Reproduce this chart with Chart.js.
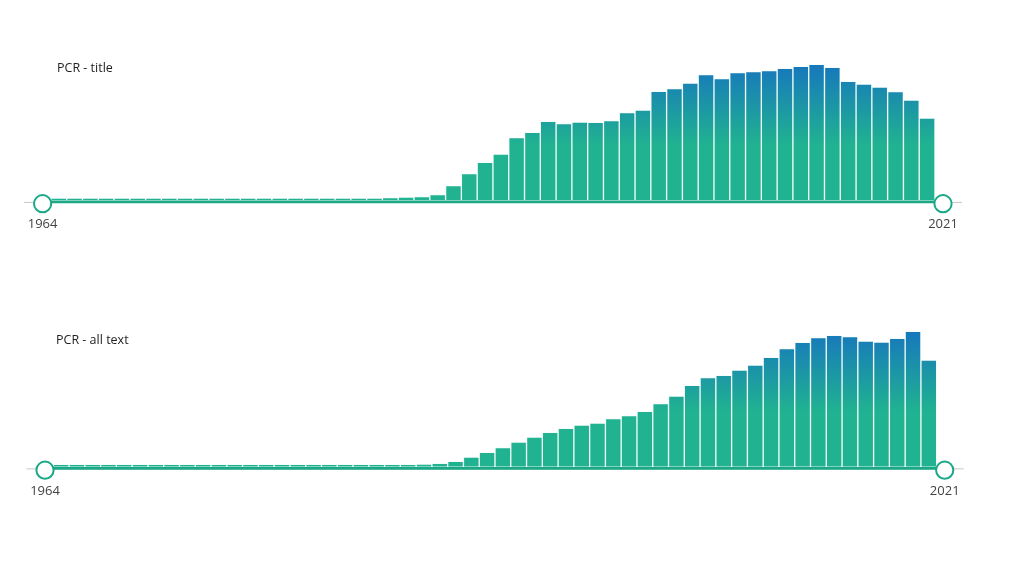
<!DOCTYPE html>
<html>
<head>
<meta charset="utf-8">
<script src="https://cdn.jsdelivr.net/npm/chart.js@4.4.1/dist/chart.umd.min.js"></script>
<style>
  html, body { margin: 0; padding: 0; background: #fff; }
  body { width: 1024px; height: 571px; position: relative; overflow: hidden; }
  canvas { position: absolute; left: 0; }
</style>
</head>
<body>
<canvas id="pcr-title" width="1024" height="250" style="top:0px"></canvas>
<canvas id="pcr-all" width="1024" height="250" style="top:266px"></canvas>
<script>
// years shown as bars (slider runs 1964 -> 2021)
const years = [];
for (let y = 1964; y <= 2020; y++) years.push(String(y));
const rangeLabels = ['1964', '2021'];

// PCR - title (arbitrary units)
const titleValues = [
  2.3, 2.3, 2.3, 2.3, 2.3, 2.3, 2.3, 2.3, 2.3, 2.3,
  2.3, 2.3, 2.3, 2.3, 2.3, 2.3, 2.3, 2.3, 2.3, 2.3,
  2.3, 2.3, 2.6, 3.3, 3.6, 5.6, 14.6, 26.7, 38, 46.3,
  62.7, 68, 79, 76.7, 78.3, 78, 79.7, 87.7, 90.3, 109,
  111.7, 117.3, 125.7, 121.7, 127.7, 128.7, 129.7, 132, 134, 136,
  133, 119, 116.3, 113.3, 108.7, 100.3, 82.3
];

// PCR - all text
const allTextValues = [
  2.5, 2.5, 2.5, 2.5, 2.5, 2.5, 2.5, 2.5, 2.5, 2.5,
  2.5, 2.5, 2.5, 2.5, 2.5, 2.5, 2.5, 2.5, 2.5, 2.5,
  2.5, 2.5, 2.5, 2.5, 2.8, 3.4, 5.5, 9.8, 14.5, 19.1,
  24.8, 29.8, 34.5, 38.5, 41.8, 43.8, 48.1, 51.1, 55.5, 63.1,
  70.8, 81.5, 89.1, 91.5, 96.8, 101.8, 109.5, 118.1, 124.5, 129.1,
  131.5, 130.1, 125.8, 124.8, 128.5, 135.5, 106.8
];

const TEAL = '#20b291';
const BLUE = '#1777bc';

function barGradient(context) {
  const area = context.chart.chartArea;
  if (!area) return TEAL;
  const g = context.chart.ctx.createLinearGradient(0, area.bottom, 0, area.top);
  g.addColorStop(0, TEAL);
  g.addColorStop(0.4, TEAL);
  g.addColorStop(0.97, BLUE);
  g.addColorStop(1, BLUE);
  return g;
}

// slider line, handles, range labels and the visual title
const sliderPlugin = {
  id: 'slider',
  afterDatasetsDraw(chart, args, opts) {
    const ctx = chart.ctx;
    const a = chart.chartArea;
    const lineY = a.bottom + 1.6;
    const hx1 = a.left + 7.5, hx2 = a.right + 8;
    const hy = a.bottom + 3.4;
    ctx.save();
    // grey track
    ctx.strokeStyle = '#c8c6c4';
    ctx.lineWidth = 1;
    ctx.beginPath();
    ctx.moveTo(a.left - 11, lineY + 0.5);
    ctx.lineTo(a.right + 27, lineY + 0.5);
    ctx.stroke();
    // selected range
    ctx.strokeStyle = '#1aa887';
    ctx.lineWidth = 2.6;
    ctx.beginPath();
    ctx.moveTo(hx1, lineY);
    ctx.lineTo(hx2, lineY);
    ctx.stroke();
    // handles
    [hx1, hx2].forEach(x => {
      ctx.beginPath();
      ctx.arc(x, hy, 8.6, 0, Math.PI * 2);
      ctx.fillStyle = '#fff';
      ctx.fill();
      ctx.lineWidth = 2;
      ctx.strokeStyle = '#1aa887';
      ctx.stroke();
    });
    // labels
    ctx.fillStyle = '#444342';
    ctx.font = '13px "Segoe UI", "Open Sans", sans-serif';
    ctx.textAlign = 'center';
    ctx.textBaseline = 'middle';
    ctx.fillText(rangeLabels[0], hx1, a.bottom + 24);
    ctx.fillText(rangeLabels[1], hx2, a.bottom + 24);
    // title
    ctx.fillStyle = '#201f1e';
    ctx.font = '12.5px "Segoe UI", "Open Sans", sans-serif';
    ctx.textAlign = 'left';
    ctx.fillText(opts.title, opts.titleX, opts.titleY);
    ctx.restore();
  }
};

function makeChart(id, values, title, pad, titleX, titleY) {
  return new Chart(document.getElementById(id), {
    type: 'bar',
    data: {
      labels: years,
      datasets: [{
        label: title,
        data: values,
        backgroundColor: barGradient,
        borderColor: 'rgba(230,250,245,0.45)',
        borderWidth: 1,
        barPercentage: 1,
        categoryPercentage: 1
      }]
    },
    options: {
      responsive: false,
      animation: false,
      devicePixelRatio: 1,
      layout: { padding: pad },
      scales: {
        x: { display: false },
        y: { display: false, min: 0, max: 140 }
      },
      plugins: {
        legend: { display: false },
        tooltip: { enabled: false },
        slider: { title: title, titleX: titleX, titleY: titleY }
      }
    },
    plugins: [sliderPlugin]
  });
}

makeChart('pcr-title', titleValues, 'PCR - title',
  { left: 35.1, right: 89, top: 60.3, bottom: 49.7 }, 57, 68.5);
makeChart('pcr-all', allTextValues, 'PCR - all text',
  { left: 37.5, right: 87.3, top: 60.8, bottom: 49.2 }, 56, 74.5);
</script>
</body>
</html>
